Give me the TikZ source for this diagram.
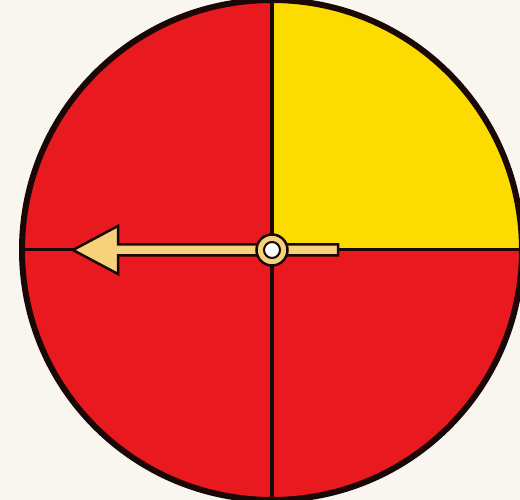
\documentclass[tikz,border=0pt]{standalone}
\usepackage{tikz}
\usepackage{xcolor}

\definecolor{fondpapier}{HTML}{F8F6EF}
\definecolor{rougeroue}{HTML}{E8191F}
\definecolor{jauneroue}{HTML}{FCDC00}
\definecolor{sableaiguille}{HTML}{F6D27A}
\definecolor{traitfonce}{HTML}{1A0806}

\begin{document}
\begin{tikzpicture}[x=1pt,y=1pt]

% Fond
\fill[fondpapier] (0,0) rectangle (520,500);
\useasboundingbox (0,0) rectangle (520,500);

\coordinate (centre) at (272,250);

% Quartiers
\fill[rougeroue] (centre) circle (250);
\fill[
jauneroue
]
(centre) -- ++(250,0) arc (0:90:250) -- cycle;

% Séparations
\draw[
traitfonce,
line width=3.5pt
]
(272,0)--(272,500);
\draw[
traitfonce,
line width=3pt
]
(22,250)--(520,250);

% Bord de la roue
\draw[
traitfonce,
line width=6pt
]
(centre) circle (250);

% Aiguille
\draw[
traitfonce,
fill=sableaiguille,
line width=2.5pt,
line join=miter
]
(73,250)--(118,274)--(118,255.5)--(338,255.5)--(338,244.5)--(118,244.5)--(118,226)--cycle;

% Axe central
\node[
circle,
draw=traitfonce,
line width=2.5pt,
fill=sableaiguille,
minimum size=31pt,
inner sep=0pt
]
(axe) at (centre) {};
\node[
circle,
draw=traitfonce,
line width=2pt,
fill=white,
minimum size=16pt,
inner sep=0pt
]
(trou) at (axe) {};

\end{tikzpicture}
\end{document}
